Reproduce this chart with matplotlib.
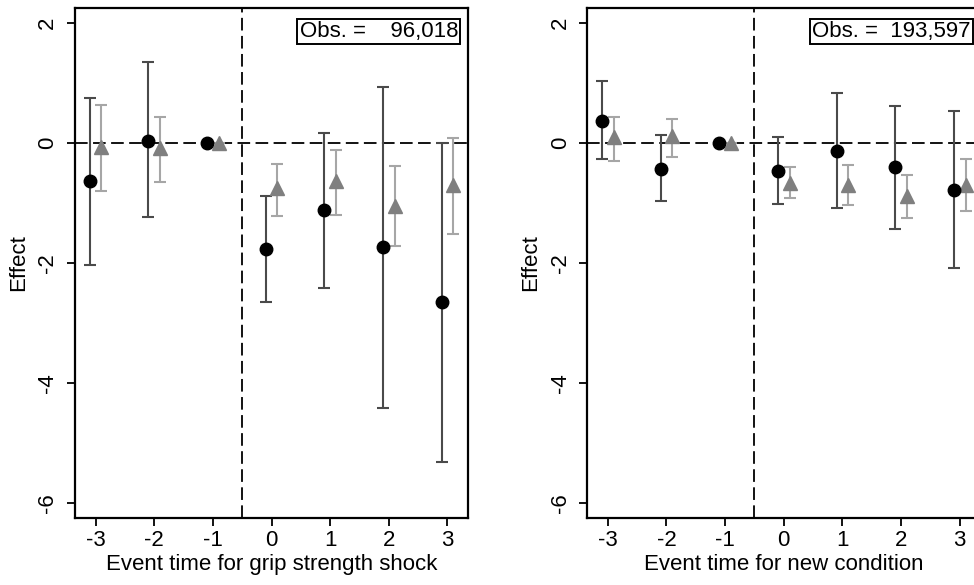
import matplotlib
matplotlib.use("Agg")
import matplotlib.pyplot as plt
import numpy as np

plt.rcParams['font.family'] = ['Liberation Sans', 'DejaVu Sans']

event_time = [-3, -2, -1, 0, 1, 2, 3]
xtick_labels = ["-3", "-2", "-1", "0", "1", "2", "3"]
yticks = [-6, -4, -2, 0, 2]
ytick_labels = ["-6", "-4", "-2", "0", "2"]

# Left panel: grip strength shock
grip_s1 = [-0.64, 0.04, 0.0, -1.76, -1.12, -1.74, -2.65]
grip_s1_lo = [-2.04, -1.23, 0.0, -2.65, -2.42, -4.42, -5.31]
grip_s1_hi = [0.75, 1.35, 0.0, -0.88, 0.17, 0.94, 0.0]
grip_s2 = [-0.06, -0.08, 0.0, -0.75, -0.64, -1.045, -0.695]
grip_s2_lo = [-0.80, -0.645, 0.0, -1.22, -1.195, -1.72, -1.52]
grip_s2_hi = [0.64, 0.44, 0.0, -0.345, -0.12, -0.38, 0.09]

# Right panel: new condition
cond_s1 = [0.37, -0.43, 0.0, -0.46, -0.14, -0.405, -0.78]
cond_s1_lo = [-0.27, -0.97, 0.0, -1.02, -1.09, -1.43, -2.08]
cond_s1_hi = [1.03, 0.13, 0.0, 0.105, 0.83, 0.62, 0.54]
cond_s2 = [0.10, 0.11, 0.0, -0.66, -0.70, -0.89, -0.695]
cond_s2_lo = [-0.295, -0.23, 0.0, -0.92, -1.04, -1.25, -1.14]
cond_s2_hi = [0.44, 0.405, 0.0, -0.395, -0.37, -0.54, -0.27]

xlabels = ["Event time for grip strength shock", "Event time for new condition"]
obs_labels = ["Obs. =    96,018", "Obs. =  193,597"]

FS = 16
W, H = 974, 585
fig = plt.figure(figsize=(W / 100, H / 100), dpi=100)

ax_w = 393 / W
ax_h = 510 / H
ax_b = (H - 518) / H
axes = [fig.add_axes([75 / W, ax_b, ax_w, ax_h]),
        fig.add_axes([587.3 / W, ax_b, ax_w, ax_h])]

panels = [
    (grip_s1, grip_s1_lo, grip_s1_hi, grip_s2, grip_s2_lo, grip_s2_hi),
    (cond_s1, cond_s1_lo, cond_s1_hi, cond_s2, cond_s2_lo, cond_s2_hi),
]

off = 0.1
for ax, (s1, s1lo, s1hi, s2, s2lo, s2hi), xl, ob in zip(axes, panels, xlabels, obs_labels):
    x = np.array(event_time, dtype=float)
    s1 = np.array(s1); s2 = np.array(s2)
    e1 = [s1 - np.array(s1lo), np.array(s1hi) - s1]
    e2 = [s2 - np.array(s2lo), np.array(s2hi) - s2]
    ax.axhline(0, color='black', lw=1.3, dashes=(7, 3), zorder=1)
    ax.axvline(-0.5, color='black', lw=1.3, dashes=(7, 3), zorder=1)
    ax.errorbar(x - off, s1, yerr=e1, fmt='none', ecolor='#4a4a4a',
                elinewidth=1.5, capsize=4.3, capthick=1.5, zorder=2)
    ax.errorbar(x + off, s2, yerr=e2, fmt='none', ecolor='#a6a6a6',
                elinewidth=1.5, capsize=4.3, capthick=1.5, zorder=2)
    ax.plot(x - off, s1, 'o', color='black', ms=9, zorder=4)
    ax.plot(x + off, s2, '^', color='#7f7f7f', ms=10.5, zorder=3)

    ax.set_xlim(-3.35, 3.35)
    ax.set_ylim(-6.25, 2.25)
    ax.set_xticks(event_time)
    ax.set_xticklabels(xtick_labels, fontsize=FS)
    ax.set_yticks(yticks)
    ax.set_yticklabels(ytick_labels, fontsize=FS, rotation=90, va='center')
    ax.tick_params(axis='both', direction='out', length=6, width=1.3, color='black')
    ax.tick_params(axis='x', pad=3)
    ax.tick_params(axis='y', pad=6)
    for sp in ax.spines.values():
        sp.set_linewidth(1.6)
        sp.set_color('black')
    ax.set_xlabel(xl, fontsize=FS, labelpad=2)
    ax.set_ylabel("Effect", fontsize=FS, labelpad=6)
    ax.text(0.975, 0.975, ob, transform=ax.transAxes, ha='right', va='top',
            fontsize=FS, zorder=5,
            bbox=dict(boxstyle='square,pad=0.1', facecolor='white',
                      edgecolor='black', linewidth=1.4))

fig.savefig("out.png", dpi=100)
